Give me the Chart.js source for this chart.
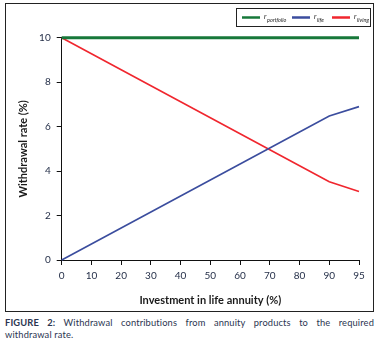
<!DOCTYPE html>
<html>
<head>
<meta charset="utf-8">
<script src="https://cdn.jsdelivr.net/npm/chart.js@4/dist/chart.umd.min.js"></script>
<style>
  body { margin: 0; background: #fff; width: 379px; height: 343px; position: relative; font-family: Lato, "Open Sans", sans-serif; }
  #frame { position: absolute; left: 5px; top: 3px; width: 367px; height: 307px; border: 1px solid #222; }
  #caption { position: absolute; left: 5px; top: 317px; width: 369px; font-size: 9.3px; letter-spacing: 0.15px; line-height: 12px; color: #2b3550; }
  #caption .l1 { text-align: justify; text-align-last: justify; }
  #caption b { font-weight: bold; }
</style>
</head>
<body>
<div id="frame"><canvas id="chart" width="367" height="307"></canvas></div>
<div id="caption"><div class="l1"><b>FIGURE 2:</b> Withdrawal contributions from annuity products to the required</div><div>withdrawal rate.</div></div>
<script>
// investment in life annuity (%)
const categories = ['0', '10', '20', '30', '40', '50', '60', '70', '80', '90', '95'];
const rPortfolio = [10, 10, 10, 10, 10, 10, 10, 10, 10, 10, 10];
const rLife = [0, 0.72, 1.44, 2.16, 2.88, 3.6, 4.32, 5.04, 5.76, 6.48, 6.9];
const rLiving = [10, 9.28, 8.56, 7.84, 7.12, 6.4, 5.68, 4.96, 4.24, 3.52, 3.08];
const yTicks = [0, 2, 4, 6, 8, 10];
const legendSubs = ['portfolio', 'life', 'living'];

const tickColor = '#1f2a44';

const customLegend = {
  id: 'customLegend',
  afterDraw(chart) {
    const ctx = chart.ctx;
    ctx.save();
    const bx = 230, by = 4, bw = 134, bh = 18;
    ctx.strokeStyle = '#222';
    ctx.lineWidth = 1;
    ctx.strokeRect(bx + 0.5, by + 0.5, bw, bh);
    const starts = [236, 286, 326];
    chart.data.datasets.forEach((ds, i) => {
      const x = starts[i];
      const y = by + bh / 2 + 0.5;
      ctx.strokeStyle = ds.borderColor;
      ctx.lineWidth = 2.5;
      ctx.beginPath();
      ctx.moveTo(x, y);
      ctx.lineTo(x + 18, y);
      ctx.stroke();
      ctx.fillStyle = '#222';
      ctx.textBaseline = 'alphabetic';
      ctx.font = 'italic 7px Lato, sans-serif';
      ctx.fillText('r', x + 22, y + 1);
      ctx.font = 'italic 5.5px Lato, sans-serif';
      ctx.fillText(legendSubs[i], x + 25, y + 4);
    });
    ctx.restore();
  }
};

new Chart(document.getElementById('chart'), {
  type: 'line',
  data: {
    labels: categories,
    datasets: [
      { label: 'r portfolio', data: rPortfolio, borderColor: '#17783a', borderWidth: 3, clip: false },
      { label: 'r life', data: rLife, borderColor: '#3b4d9e', borderWidth: 1.6, clip: false },
      { label: 'r living', data: rLiving, borderColor: '#f0262e', borderWidth: 1.6, clip: false }
    ]
  },
  options: {
    responsive: false,
    animation: false,
    elements: { point: { radius: 0 }, line: { tension: 0 } },
    layout: { padding: { top: 33.7, right: 14, left: 0, bottom: 0 } },
    plugins: { legend: { display: false }, tooltip: { enabled: false } },
    scales: {
      x: {
        offset: false,
        afterFit(s) { s.height = 51; },
        grid: { drawOnChartArea: false, color: '#111', tickLength: 5, tickWidth: 1 },
        border: { color: '#111', width: 1 },
        ticks: { color: tickColor, padding: 5, font: { family: 'Lato', size: 10 } },
        title: { display: true, text: 'Investment in life annuity (%)', color: '#1a1a1a', padding: { top: 5 }, font: { family: 'Lato', size: 11, weight: 'bold' } }
      },
      y: {
        min: 0, max: 10,
        afterFit(s) { s.width = 55.7; },
        afterBuildTicks(s) { s.ticks = yTicks.map(v => ({ value: v })); },
        grid: { drawOnChartArea: false, color: '#111', tickLength: 5, tickWidth: 1 },
        border: { color: '#111', width: 1 },
        ticks: { color: tickColor, padding: 6, font: { family: 'Lato', size: 10 } },
        title: { display: true, text: 'Withdrawal rate (%)', color: '#1a1a1a', padding: { top: 11, bottom: 0 }, font: { family: 'Lato', size: 11, weight: 'bold' } }
      }
    }
  },
  plugins: [customLegend]
});
</script>
</body>
</html>
